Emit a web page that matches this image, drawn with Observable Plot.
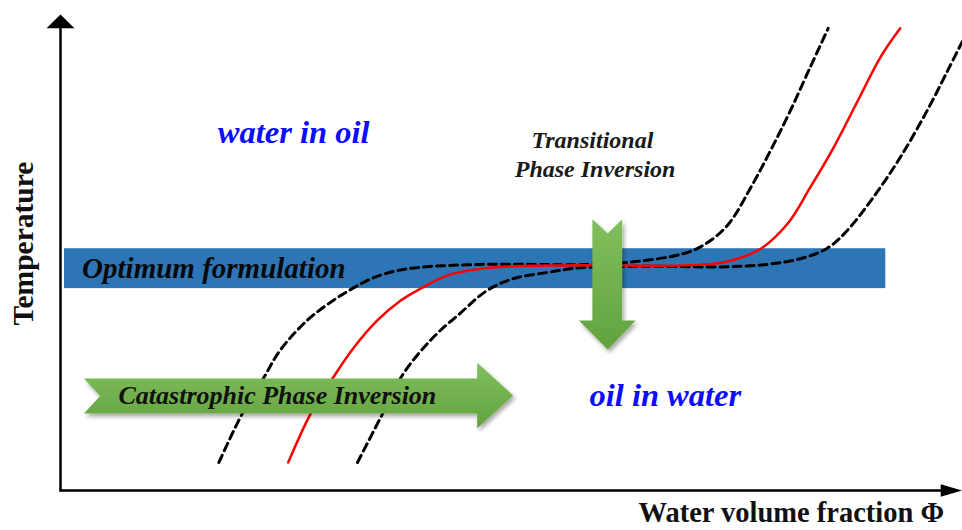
<!DOCTYPE html>
<html>
<head>
<meta charset="utf-8">
<script src="https://cdn.jsdelivr.net/npm/d3@7"></script>
<script src="https://cdn.jsdelivr.net/npm/@observablehq/plot@0.6"></script>
<style>
  html, body { margin: 0; padding: 0; background: #ffffff; }
  #chart svg { display: block; }
</style>
</head>
<body>
<div id="chart"></div>
<script>
// ---- Data (schematic units: water fraction 0–100, temperature 0–100) ----
const redCurve = [
  [25.3, 5.9], [27.8, 16.2], [30.3, 23.8], [32.6, 30.1], [35.2, 35.8], [37.8, 40.0],
  [40.0, 42.5], [43.0, 45.3], [46.7, 46.7], [50.3, 47.2], [59.4, 47.4], [66.0, 47.3],
  [71.0, 47.5], [74.1, 48.2], [77.8, 50.9], [80.8, 56.2], [83.3, 63.8], [85.9, 72.2],
  [88.6, 82.1], [91.1, 91.2], [93.3, 97.3]
];
const leftDashed = [
  [17.6, 5.9], [20.2, 16.2], [22.6, 23.8], [24.4, 29.5], [27.4, 35.8], [30.3, 40.0],
  [32.6, 42.7], [34.8, 44.8], [37.4, 46.3], [40.0, 47.0], [46.7, 47.6], [59.4, 47.6],
  [63.9, 48.2], [68.9, 49.7], [71.4, 51.6], [74.1, 55.8], [76.7, 63.8], [78.9, 71.6],
  [81.1, 80.0], [83.3, 89.1], [85.3, 97.3]
];
const rightDashed = [
  [33.0, 5.9], [35.8, 16.2], [38.1, 24.6], [41.4, 32.2], [44.4, 37.3], [47.4, 42.1],
  [50.3, 44.6], [54.1, 45.9], [57.8, 46.9], [65.0, 47.2], [74.1, 47.1], [78.5, 47.6],
  [82.2, 48.8], [85.2, 51.0], [87.4, 54.7], [90.3, 61.7], [93.3, 70.1], [96.3, 80.0],
  [98.6, 88.5], [100.2, 94.5]
];
// Optimum formulation band
const bandX = [0.44, 91.7];
const bandY = [42.5, 50.9];
// Arrow outlines
const downArrow = [
  [59.1, 57.1], [60.8, 54.1], [62.4, 57.1], [62.4, 35.8], [63.9, 35.8],
  [60.8, 29.7], [57.6, 35.8], [59.1, 35.8]
];
const rightArrow = [
  [2.6, 23.6], [46.3, 23.6], [46.3, 26.9], [50.3, 20.0], [46.3, 13.1],
  [46.3, 16.2], [2.6, 16.2], [4.4, 19.9]
];
// Axes
const xAxisEnd = 100.2;
const yAxisEnd = 100.2;
const yHead = [[0, 100.2], [-1.55, 97.3], [1.55, 97.3]];
const xHead = [[100.2, 0], [97.8, 1.3], [97.8, -1.3]];
// Labels
const regionLabels = [
  { text: "water in oil", x: 25.9, y: 75.4 },
  { text: "oil in water", x: 67.2, y: 20.0 }
];
const transitionalLabels = [
  { text: "Transitional", x: 59.1, y: 73.7 },
  { text: "Phase Inversion", x: 59.4, y: 67.6 }
];
const bandLabel = [{ text: "Optimum formulation", x: 2.4, y: 46.7 }];
const catLabel = [{ text: "Catastrophic Phase Inversion", x: 24.1, y: 20.0 }];
const yTitle = [{ text: "Temperature", x: -4.1, y: 52.0 }];
const xTitle = [{ text: "Water volume fraction Φ", x: 81.2, y: -4.8 }];

const px = d => d[0], py = d => d[1];
const serif = "'Liberation Serif', 'Times New Roman', serif";

const chart = Plot.plot({
  width: 962,
  height: 530,
  marginLeft: 60,
  marginRight: 2,
  marginTop: 15,
  marginBottom: 40,
  x: { domain: [0, 100], axis: null },
  y: { domain: [0, 100], axis: null },
  style: { fontFamily: serif, background: "#ffffff" },
  marks: [
    // band
    Plot.rect([0], { x1: () => bandX[0], x2: () => bandX[1], y1: () => bandY[0], y2: () => bandY[1], fill: "#2e75b6" }),
    Plot.text(bandLabel, { x: "x", y: "y", text: "text", textAnchor: "start", fontSize: 29, fontStyle: "italic", fontWeight: "bold", fill: "#0a0a0a" }),
    // curves
    Plot.line(leftDashed, { x: px, y: py, curve: "catmull-rom", stroke: "#000", strokeWidth: 3, strokeDasharray: "8,5" }),
    Plot.line(rightDashed, { x: px, y: py, curve: "catmull-rom", stroke: "#000", strokeWidth: 3, strokeDasharray: "8,5" }),
    Plot.line(redCurve, { x: px, y: py, curve: "catmull-rom", stroke: "#ff0000", strokeWidth: 2.5 }),
    // arrows
    Plot.line(downArrow, { x: px, y: py, curve: "linear-closed", fill: "url(#greenGrad)", stroke: "none" }),
    Plot.line(rightArrow, { x: px, y: py, curve: "linear-closed", fill: "url(#greenGrad)", stroke: "none" }),
    Plot.text(catLabel, { x: "x", y: "y", text: "text", fontSize: 26, fontStyle: "italic", fontWeight: "bold", fill: "#111" }),
    // axes
    Plot.line([[0, 0], [0, yAxisEnd - 2]], { x: px, y: py, stroke: "#000", strokeWidth: 2.5 }),
    Plot.line([[0, 0], [xAxisEnd - 1.5, 0]], { x: px, y: py, stroke: "#000", strokeWidth: 2.5 }),
    Plot.line(yHead, { x: px, y: py, curve: "linear-closed", fill: "#000", stroke: "none" }),
    Plot.line(xHead, { x: px, y: py, curve: "linear-closed", fill: "#000", stroke: "none" }),
    // labels
    Plot.text(regionLabels, { x: "x", y: "y", text: "text", fontSize: 32.5, fontStyle: "italic", fontWeight: "bold", fill: "#0c0cff" }),
    Plot.text(transitionalLabels, { x: "x", y: "y", text: "text", fontSize: 24, fontStyle: "italic", fontWeight: "bold", fill: "#1a1a1a" }),
    Plot.text(yTitle, { x: "x", y: "y", text: "text", rotate: -90, fontSize: 29.5, fontWeight: "bold", fill: "#111" }),
    Plot.text(xTitle, { x: "x", y: "y", text: "text", fontSize: 28.5, fontWeight: "bold", fill: "#111" })
  ]
});

// gradient + soft shadow for the green arrows
const svg = d3.select(chart);
const defs = svg.insert("defs", ":first-child");
const grad = defs.append("linearGradient").attr("id", "greenGrad").attr("x1", 0).attr("y1", 0).attr("x2", 0).attr("y2", 1);
grad.append("stop").attr("offset", "0%").attr("stop-color", "#80bf5c");
grad.append("stop").attr("offset", "100%").attr("stop-color", "#62a23f");
const filt = defs.append("filter").attr("id", "arrowShadow").attr("x", "-10%").attr("y", "-10%").attr("width", "130%").attr("height", "140%");
filt.append("feDropShadow").attr("dx", 2).attr("dy", 3).attr("stdDeviation", 2).attr("flood-color", "#000").attr("flood-opacity", 0.35);
svg.selectAll('[fill="url(#greenGrad)"]').attr("filter", "url(#arrowShadow)");

document.getElementById("chart").appendChild(chart);
</script>
</body>
</html>
